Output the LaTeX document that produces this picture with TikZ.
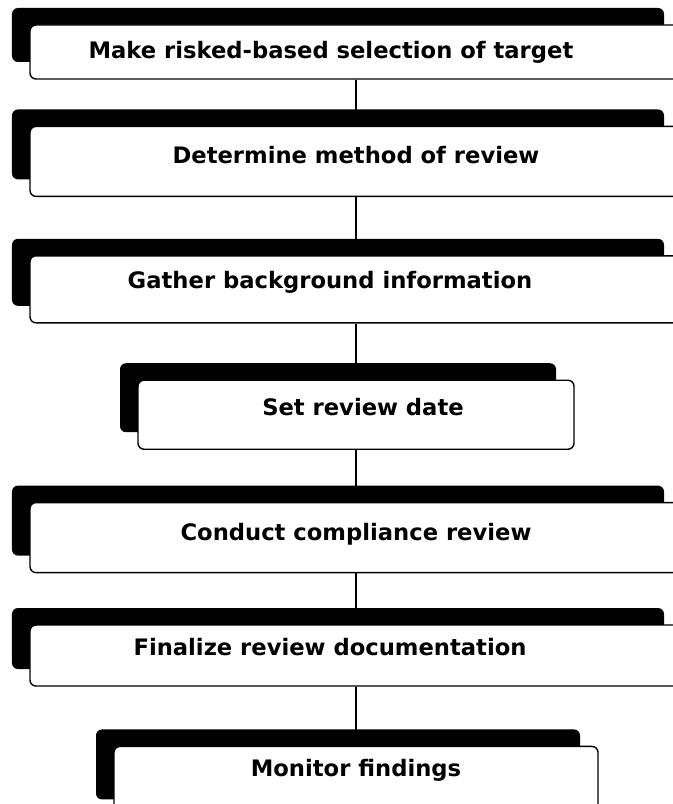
\documentclass[tikz,border=0pt]{standalone}
\usepackage{fontspec}
\setmainfont{DejaVu Sans}
\usepackage{tikz}
\usetikzlibrary{shapes,arrows,positioning,shadows,calc}

\begin{document}
\begin{tikzpicture}[
            stage/.style={rectangle, draw, line width=0.8pt, rounded corners=0.12cm, fill=white,
              minimum width=13.04cm, inner xsep=0pt, inner ysep=0pt,
              font=\fontsize{12.9}{14}\selectfont\bfseries,
              drop shadow={shadow xshift=-0.36cm, shadow yshift=0.34cm, fill=black, opacity=1}},
            narrow/.style={minimum width=8.72cm},
            link/.style={line width=0.9pt}
        ]
            \useasboundingbox (0,0) rectangle (13.46,-16.08);
            \node[stage, text height=0.68cm, text depth=0.40cm] (target) at (7.12,-1.04) {Make risked-based selection of target\hspace*{1cm}};
            \node[stage, text height=0.74cm, text depth=0.66cm, below=0.92cm of target] (method) {Determine method of review};
            \node[stage, text height=0.66cm, text depth=0.68cm, below=1.16cm of method] (gather) {Gather background information\hspace*{1.04cm}};
            \node[stage, narrow, text height=0.70cm, text depth=0.68cm, below=1.12cm of gather] (date) {\hspace*{0.28cm}Set review date};
            \node[stage, text height=0.76cm, text depth=0.64cm, below=1.04cm of date] (conduct) {Conduct compliance review};
            \node[stage, text height=0.60cm, text depth=0.62cm, below=1.02cm of conduct] (finalize) {Finalize review documentation\hspace*{1.04cm}};
            \node[stage, minimum width=9.68cm, text height=0.60cm, text depth=0.80cm, below=1.18cm of finalize] (monitor) {Monitor findings};

            \draw[link] (target.south) -- (method.north);
            \draw[link] (method.south) -- (gather.north);
            \draw[link] (gather.south) -- (date.north);
            \draw[link] (date.south) -- (conduct.north);
            \draw[link] (conduct.south) -- (finalize.north);
            \draw[link] (finalize.south) -- (monitor.north);
        \end{tikzpicture}
\end{document}
